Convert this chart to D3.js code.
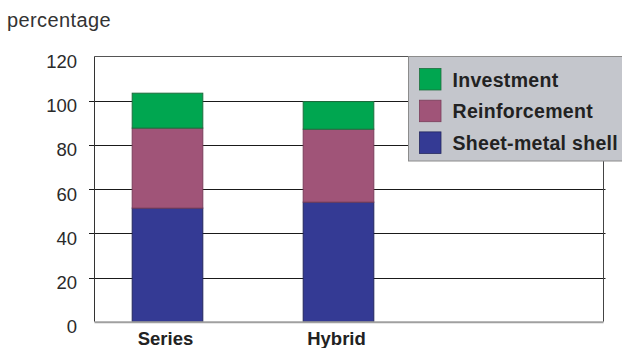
<!DOCTYPE html>
<html>
<head>
<meta charset="utf-8">
<script src="https://cdn.jsdelivr.net/npm/d3@7"></script>
<style>
  html, body { margin: 0; padding: 0; background: #fff; }
  svg { display: block; }
</style>
</head>
<body>
<svg id="chart" width="622" height="348"></svg>
<script>
// ---- data ----
const categories = ["Series", "Hybrid"];
const seriesNames = ["Sheet-metal shell", "Reinforcement", "Investment"];
const sheetMetal = [51.4, 54.1];
const reinforcement = [36.2, 33.0];
const investment = [15.8, 12.5];
const yTicks = [0, 20, 40, 60, 80, 100, 120];
const legendOrder = ["Investment", "Reinforcement", "Sheet-metal shell"];
const yTitle = "percentage";

const colors = {
  "Sheet-metal shell": "#343a94",
  "Reinforcement": "#a05478",
  "Investment": "#00a650"
};
const strokes = {
  "Sheet-metal shell": "#23275e",
  "Reinforcement": "#7a3e5a",
  "Investment": "#1f6e3e"
};

const rows = categories.map((c, i) => ({
  cat: c,
  "Sheet-metal shell": sheetMetal[i],
  "Reinforcement": reinforcement[i],
  "Investment": investment[i]
}));

const svg = d3.select("#chart");
const plot = { left: 94.5, right: 603.5, top: 56.5, bottom: 321.7 };

const y = d3.scaleLinear().domain([0, 120]).range([plot.bottom, plot.top]);
const x = d3.scaleBand().domain([...categories, ""]).range([82, 595]).padding(0);
const barW = x.bandwidth() * 0.413;

const font = "'Liberation Sans', Arial, Helvetica, sans-serif";

// y title
svg.append("text")
  .attr("x", 7).attr("y", 27)
  .attr("font-family", font).attr("font-size", 20)
  .attr("letter-spacing", 0.4)
  .attr("fill", "#333")
  .text(yTitle);

// gridlines (inner ticks extend left as tick marks)
const inner = yTicks.filter(v => v > 0 && v < 120);
svg.append("g").selectAll("line").data(inner).join("line")
  .attr("x1", 89).attr("x2", 605.5)
  .attr("y1", d => Math.round(y(d)) + 0.5).attr("y2", d => Math.round(y(d)) + 0.5)
  .attr("stroke", "#1a1a1a").attr("stroke-width", 1);

// frame: top, left, right
svg.append("line").attr("x1", plot.left).attr("x2", plot.right)
  .attr("y1", y(120)).attr("y2", y(120)).attr("stroke", "#555").attr("stroke-width", 1);
svg.append("line").attr("x1", plot.left).attr("x2", plot.left)
  .attr("y1", y(120)).attr("y2", plot.bottom).attr("stroke", "#333").attr("stroke-width", 1);
svg.append("line").attr("x1", plot.right).attr("x2", plot.right)
  .attr("y1", y(120)).attr("y2", plot.bottom).attr("stroke", "#444").attr("stroke-width", 1);

// y tick labels
svg.append("g").selectAll("text").data(yTicks).join("text")
  .attr("x", 77).attr("y", d => y(d) + 5)
  .attr("dy", "0.35em")
  .attr("text-anchor", "end")
  .attr("font-family", font).attr("font-size", 18.5)
  .attr("fill", "#2a2a2a")
  .text(d => d);

// stacked bars
const stack = d3.stack().keys(seriesNames)(rows);
svg.append("g").selectAll("g").data(stack).join("g")
  .attr("fill", d => colors[d.key])
  .attr("stroke", d => strokes[d.key])
  .attr("stroke-width", 1)
  .selectAll("rect").data(d => d).join("rect")
  .attr("x", d => x(d.data.cat) + (x.bandwidth() - barW) / 2)
  .attr("width", barW)
  .attr("y", d => y(d[1]))
  .attr("height", d => y(d[0]) - y(d[1]));

// bottom axis line
svg.append("line").attr("x1", plot.left).attr("x2", plot.right)
  .attr("y1", plot.bottom + 0.5).attr("y2", plot.bottom + 0.5)
  .attr("stroke", "#a0a0a0").attr("stroke-width", 2);

// x labels
svg.append("g").selectAll("text").data(categories).join("text")
  .attr("x", d => x(d) + x.bandwidth() / 2 - 2)
  .attr("y", 345)
  .attr("text-anchor", "middle")
  .attr("font-family", font).attr("font-size", 18.5).attr("font-weight", "bold")
  .attr("fill", "#222")
  .text(d => d);

// legend
const lg = svg.append("g").attr("transform", "translate(408.5,56.5)");
lg.append("rect").attr("width", 230).attr("height", 104.5)
  .attr("fill", "#c4c6cc").attr("stroke", "#8c8c8c").attr("stroke-width", 1);
const items = lg.selectAll("g.item").data(legendOrder).join("g")
  .attr("class", "item")
  .attr("transform", (d, i) => `translate(11, ${12 + i * 31.7})`);
items.append("rect").attr("width", 21.5).attr("height", 21.5)
  .attr("fill", d => colors[d]).attr("stroke", d => strokes[d]).attr("stroke-width", 0.8);
items.append("text")
  .attr("x", 33).attr("y", 18)
  .attr("font-family", font).attr("font-size", 19.5).attr("font-weight", "bold")
  .attr("letter-spacing", 0.3)
  .attr("fill", "#222")
  .text(d => d);
</script>
</body>
</html>
